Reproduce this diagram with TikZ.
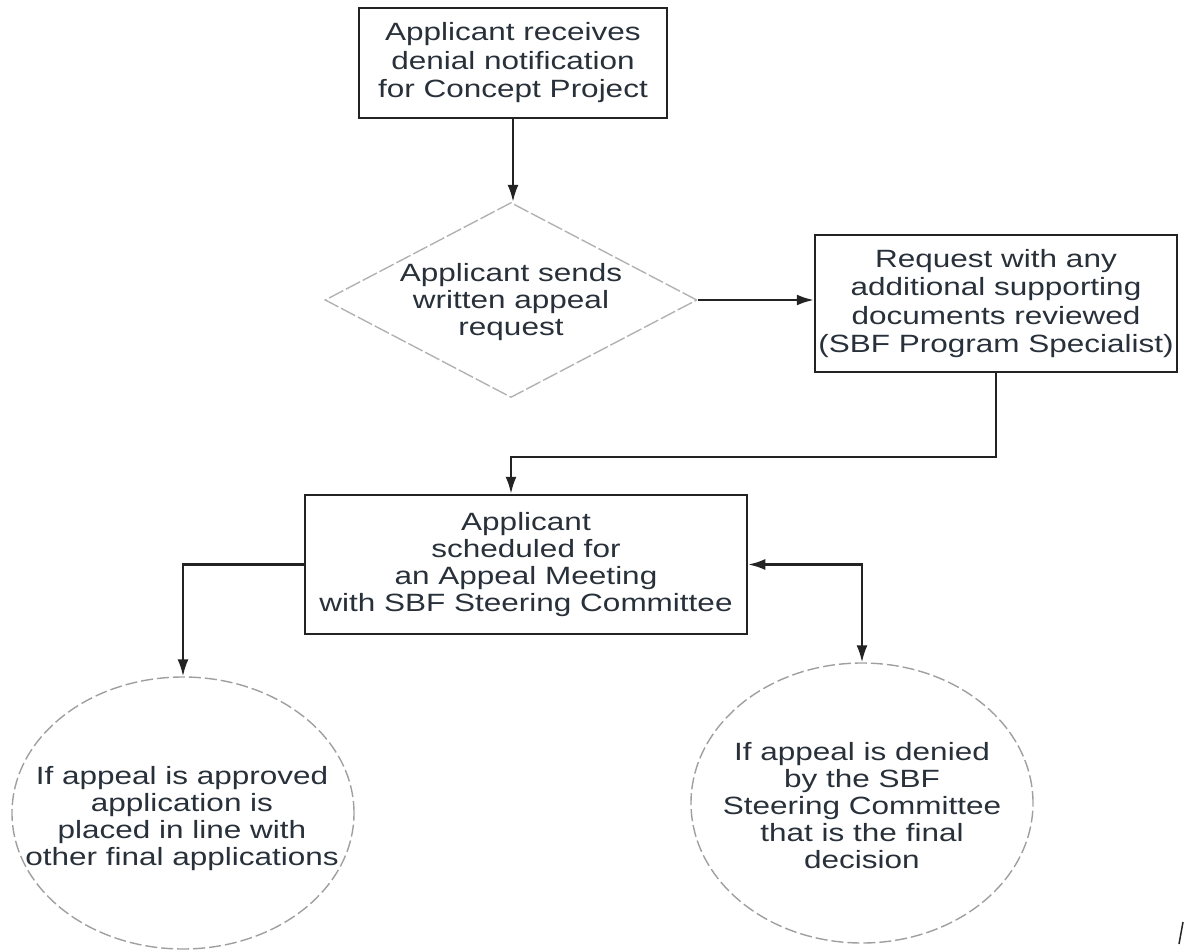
\documentclass[tikz,border=0pt]{standalone}
\usepackage{fontspec}
\setmainfont{Liberation Sans}[FakeStretch=1.26]
\usetikzlibrary{shapes.geometric,arrows.meta}
\definecolor{txt}{RGB}{40,48,58}
\definecolor{ink}{RGB}{35,35,35}
\begin{document}
\begin{tikzpicture}[x=1pt,y=-1pt,
  boxnode/.style={draw=ink, line width=2.5pt, rectangle, inner sep=0pt, align=center, text=txt, font=\fontsize{25}{28.5}\selectfont},
  txtnode/.style={align=center, text=txt, inner sep=0pt, font=\fontsize{25}{27}\selectfont},
  dianode/.style={draw=gray!60, line width=1.4pt, dash pattern=on 16pt off 3pt, diamond, inner sep=0pt},
  ellnode/.style={draw=gray!75, line width=1.4pt, dash pattern=on 12pt off 4pt, ellipse, inner sep=0pt},
  conn/.style={draw=ink, line width=2.2pt},
  arr/.style={conn, -{Latex[length=17pt,width=11pt]}},
  darr/.style={conn, {Latex[length=17pt,width=11pt]}-{Latex[length=17pt,width=11pt]}}]
\useasboundingbox (0,0) rectangle (1191,952);
\node[boxnode, minimum width=308, minimum height=110] (top) at (513,63) {Applicant receives\\denial notification\\for Concept Project};
\node[dianode, minimum width=372, minimum height=195] (dia) at (511,300) {};
\node[txtnode] (diat) at (511,302) {Applicant sends\\written appeal\\request};
\node[boxnode, minimum width=362, minimum height=137] (rev) at (996,303.5) {Request with any\\additional supporting\\documents reviewed\\(SBF Program Specialist)};
\node[boxnode, minimum width=442, minimum height=139, font=\fontsize{25}{27}\selectfont] (meet) at (526,564.5) {Applicant\\scheduled for\\an Appeal Meeting\\with SBF Steering Committee};
\node[ellnode, minimum width=342, minimum height=272] (ellL) at (183,813) {};
\node[txtnode] (ellLt) at (182,819) {If appeal is approved\\application is\\placed in line with\\other final applications};
\node[ellnode, minimum width=342, minimum height=280] (ellR) at (862,803) {};
\node[txtnode] (ellRt) at (862,806) {If appeal is denied\\by the SBF\\Steering Committee\\that is the final\\decision};
\draw[arr] (top.south) -- (top.south |- dia.north);
\draw[arr] (dia.east) -- (dia.east -| rev.west);
\coordinate (j1) at (511,457);
\draw[arr] (rev.south) |- (j1) -- (j1 |- meet.north);
\draw[arr] (meet.west) -| (ellL.north);
\draw[darr] (meet.east) -| (ellR.north);
\draw[ink, line width=1.5pt] (1179,944) -- (1183,922);
\end{tikzpicture}
\end{document}
